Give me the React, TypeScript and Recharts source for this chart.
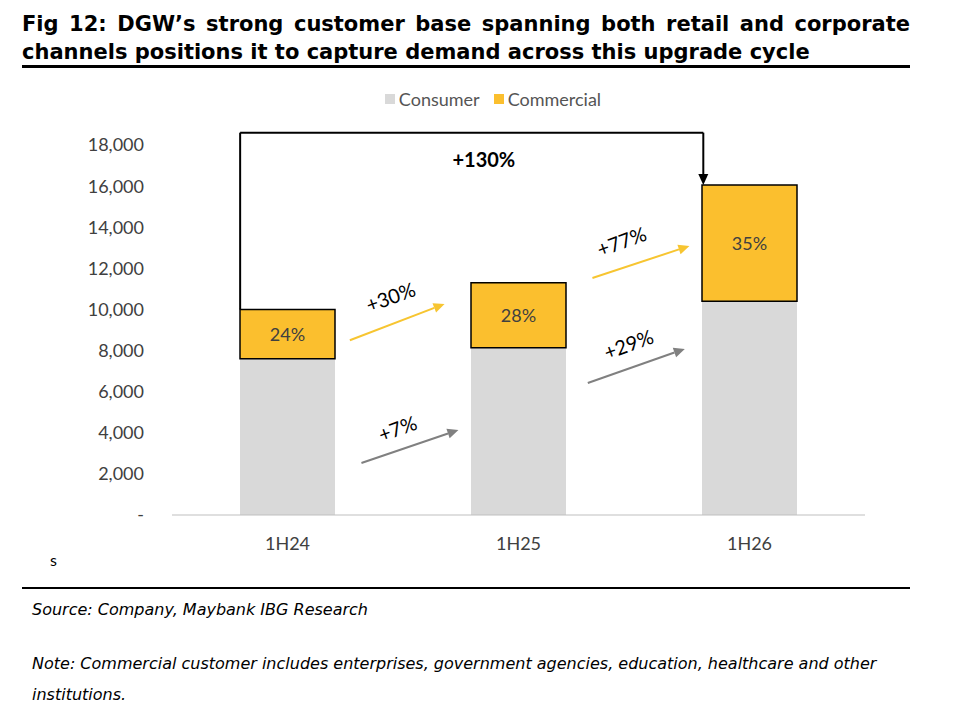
import React from 'react';
import { BarChart, Bar, XAxis, YAxis, ReferenceLine, ReferenceDot, LabelList } from 'recharts';

const categories = ['1H24', '1H25', '1H26'];
const consumer = [7600, 8140, 10400];
const commercial = [2400, 3160, 5650];
const commercialShare = ['24%', '28%', '35%'];
const yTicks = [0, 2000, 4000, 6000, 8000, 10000, 12000, 14000, 16000, 18000];

type Arrow = { x1: number; y1: number; x2: number; y2: number; color: string; label: string; lx: number; ly: number };
const growthArrows: Arrow[] = [
  { x1: 0.27, y1: 8500, x2: 0.68, y2: 10270, color: '#F7C531', label: '+30%', lx: 0.45, ly: 10500 },
  { x1: 1.32, y1: 11530, x2: 1.74, y2: 13090, color: '#F7C531', label: '+77%', lx: 1.45, ly: 13200 },
  { x1: 0.32, y1: 2530, x2: 0.74, y2: 4140, color: '#808080', label: '+7%', lx: 0.48, ly: 4100 },
  { x1: 1.3, y1: 6420, x2: 1.72, y2: 8080, color: '#808080', label: '+29%', lx: 1.48, ly: 8200 },
];

const data = categories.map((c, i) => ({ name: c, idx: i, consumer: consumer[i], commercial: commercial[i], pct: commercialShare[i] }));

const arrowShape = (color: string, head: boolean) => (p: any) => {
  const { x1, y1, x2, y2 } = p;
  const a = Math.atan2(y2 - y1, x2 - x1);
  const L = 11, W = 5;
  const bx = x2 - L * Math.cos(a), by = y2 - L * Math.sin(a);
  const pts = `${x2},${y2} ${bx - W * Math.sin(a)},${by + W * Math.cos(a)} ${bx + W * Math.sin(a)},${by - W * Math.cos(a)}`;
  return (
    <g>
      <line x1={x1} y1={y1} x2={head ? bx : x2} y2={head ? by : y2} stroke={color} strokeWidth={2} />
      {head && <polygon points={pts} fill={color} />}
    </g>
  );
};

const textShape = (t: string, rot: number, size: number, bold: boolean) => (p: any) => (
  <text x={p.cx} y={p.cy} textAnchor="middle" dominantBaseline="middle" fontSize={size} fontWeight={bold ? 700 : 400}
    fill="#000" transform={`rotate(${rot} ${p.cx} ${p.cy})`} fontFamily="Lato, sans-serif">{t}</text>
);

export default function App() {
  return (
    <div style={{ position: 'absolute', left: 0, top: 0, width: 972, height: 712, background: '#fff', fontFamily: '"DejaVu Sans", sans-serif' }}>
      <div style={{ position: 'absolute', left: 22, top: 10, width: 888, fontSize: 21, fontWeight: 700, lineHeight: '28px', textAlign: 'justify', textAlignLast: 'left' as any, color: '#000' }}>
        Fig 12: DGW’s strong customer base spanning both retail and corporate channels positions it to capture demand across this upgrade cycle
      </div>
      <div style={{ position: 'absolute', left: 22, top: 65, width: 888, height: 3, background: '#000' }} />
      <div style={{ position: 'absolute', left: 0, top: 88, width: 972, display: 'flex', justifyContent: 'center', gap: 14, fontFamily: 'Lato, sans-serif', fontSize: 18, color: '#555' }}>
        <span style={{ display: 'flex', alignItems: 'center', gap: 4, marginLeft: 14 }}><span style={{ width: 10, height: 10, background: '#D9D9D9', display: 'inline-block' }} />Consumer</span>
        <span style={{ display: 'flex', alignItems: 'center', gap: 4 }}><span style={{ width: 10, height: 10, background: '#FBBF2E', display: 'inline-block' }} />Commercial</span>
      </div>
      <div style={{ position: 'absolute', left: 0, top: 0 }}>
        <BarChart width={972} height={560} data={data} margin={{ top: 145, left: 112, right: 107, bottom: 15 }}>
          <XAxis dataKey="name" tickLine={false} axisLine={{ stroke: '#BFBFBF' }} tick={{ fill: '#404040', fontSize: 18, fontFamily: 'Lato, sans-serif' }} tickMargin={16} />
          <XAxis xAxisId="n" dataKey="idx" type="number" domain={[-0.5, 2.5]} allowDataOverflow padding={{ left: 0, right: 0 }} hide />
          <YAxis width={60} domain={[0, 18000]} ticks={yTicks} tickLine={false} axisLine={false} tickMargin={22}
            tick={{ fill: '#404040', fontSize: 18, fontFamily: 'Lato, sans-serif' }}
            tickFormatter={(v: number) => (v === 0 ? '-' : v.toLocaleString('en-US'))} />
          <Bar dataKey="consumer" stackId="a" fill="#D9D9D9" barSize={95} isAnimationActive={false} />
          <Bar dataKey="commercial" stackId="a" fill="#FBBF2E" stroke="#000" strokeWidth={1.5} barSize={95} isAnimationActive={false}>
            <LabelList dataKey="pct" position="center" fill="#404040" fontSize={18} fontFamily="Lato, sans-serif" />
          </Bar>
          <ReferenceLine xAxisId="n" ifOverflow="visible" segment={[{ x: -0.205, y: 10000 }, { x: -0.205, y: 18600 }]} shape={arrowShape('#000', false)} />
          <ReferenceLine xAxisId="n" ifOverflow="visible" segment={[{ x: -0.205, y: 18600 }, { x: 1.8, y: 18600 }]} shape={arrowShape('#000', false)} />
          <ReferenceLine xAxisId="n" ifOverflow="visible" segment={[{ x: 1.8, y: 18600 }, { x: 1.8, y: 16050 }]} shape={arrowShape('#000', true)} />
          <ReferenceDot xAxisId="n" ifOverflow="visible" x={0.85} y={17180} shape={textShape('+130%', 0, 20, true)} />
          {growthArrows.map((a, i) => (
            <ReferenceLine key={'l' + i} xAxisId="n" ifOverflow="visible" segment={[{ x: a.x1, y: a.y1 }, { x: a.x2, y: a.y2 }]} shape={arrowShape(a.color, true)} />
          ))}
          {growthArrows.map((a, i) => (
            <ReferenceDot key={'t' + i} xAxisId="n" ifOverflow="visible" x={a.lx} y={a.ly} shape={textShape(a.label, -20, 20, false)} />
          ))}
        </BarChart>
      </div>
      <div style={{ position: 'absolute', left: 50, top: 550, fontSize: 16, fontFamily: 'Lato, sans-serif' }}>s</div>
      <div style={{ position: 'absolute', left: 22, top: 587, width: 888, height: 2, background: '#000' }} />
      <div style={{ position: 'absolute', left: 32, top: 600, fontSize: 16, fontStyle: 'italic', color: '#000' }}>Source: Company, Maybank IBG Research</div>
      <div style={{ position: 'absolute', left: 32, top: 648, width: 890, fontSize: 16, fontStyle: 'italic', lineHeight: '31px', color: '#000' }}>
        Note: Commercial customer includes enterprises, government agencies, education, healthcare and other institutions.
      </div>
    </div>
  );
}
